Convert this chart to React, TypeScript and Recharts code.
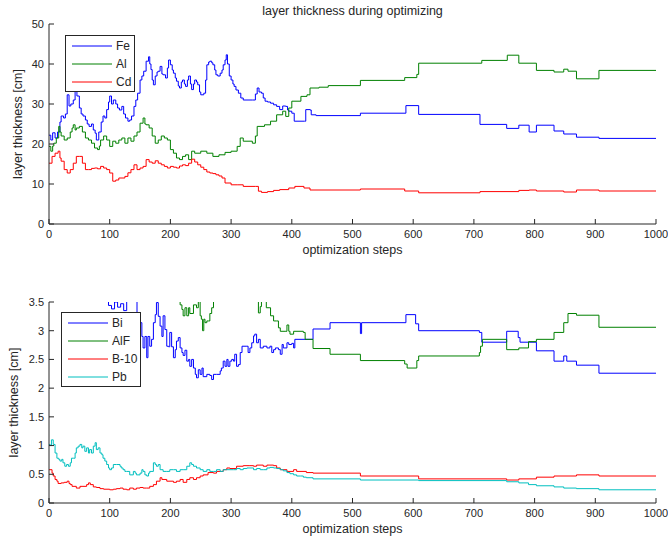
import React from "react";
import { LineChart, Line, XAxis, YAxis, Legend } from "recharts";

type Pt = [number, number];

const STEP_TICKS = [0, 100, 200, 300, 400, 500, 600, 700, 800, 900, 1000];
const UPPER_TICKS = [0, 10, 20, 30, 40, 50];
const LOWER_TICKS = [0, 0.5, 1, 1.5, 2, 2.5, 3, 3.5];

// [optimization step, layer thickness in cm]
const FE: Pt[] = [
  [0, 22.2], [3, 21], [6, 22.8], [10, 21.5], [14, 23], [18, 25.5], [20, 27], [24, 26.5], [27, 27.5],
  [30, 32.3], [33, 29.5], [36, 30], [40, 31], [43, 33.6], [46, 32], [50, 29], [53, 27.5], [56, 27],
  [60, 26], [63, 25], [66, 24.4], [70, 25], [73, 23.5], [76, 22.7], [78, 21], [82, 23], [86, 25.5],
  [89, 27], [92, 26.5], [95, 28.6], [98, 30.5], [100, 32], [103, 30], [106, 31], [110, 30], [113, 29],
  [116, 28.5], [120, 29.4], [123, 27.5], [126, 26.5], [130, 25.7], [133, 26], [136, 27], [140, 29.4],
  [143, 31], [146, 32.7], [150, 36], [153, 37], [156, 38.2], [160, 40.7], [164, 41.8], [166, 40],
  [168, 38.6], [170, 36], [172, 34.8], [175, 37], [178, 38], [180, 38.2], [183, 39.4], [186, 37.5],
  [188, 37.3], [192, 36.5], [195, 39], [197, 41], [200, 39.8], [203, 38.5], [205, 37.7], [208, 36.5],
  [210, 35.7], [213, 34.5], [215, 34], [218, 35.5], [220, 36], [223, 35], [225, 34.4], [228, 36],
  [230, 37], [233, 35], [235, 33.6], [238, 35], [240, 36], [243, 35.5], [245, 34.8], [248, 33],
  [250, 32.3], [255, 32.7], [258, 36], [260, 39.8], [263, 40.5], [265, 40.7], [268, 40.3], [270, 39.8],
  [273, 38.5], [275, 37.3], [278, 37], [282, 37.7], [285, 38.5], [287, 39.8], [290, 41], [292, 42.3],
  [294, 40], [297, 37], [300, 36], [303, 35], [305, 34.4], [308, 33.5], [312, 32.7], [316, 31.5],
  [320, 31], [335, 31], [340, 32.5], [343, 34], [346, 33], [350, 32.7], [353, 31.5], [356, 30.7],
  [360, 30.5], [365, 30.2], [370, 29.8], [375, 29.4], [380, 28.6], [385, 29.5], [390, 29.4], [393, 28.5],
  [395, 28.2], [400, 27.7], [404, 25.7], [421, 25.7], [423, 28.6], [430, 28.5], [432, 27.3], [440, 27.1],
  [513, 27.7], [588, 29.6], [609, 27.4], [710, 24.9], [754, 23.9], [774, 24.7], [791, 23], [803, 24.7],
  [832, 23.25], [848, 22.5], [869, 21.7], [906, 21.4], [1000, 21.4],
];

const AL: Pt[] = [
  [0, 19.4], [3, 18.2], [6, 19.5], [8, 20.2], [12, 21.5], [16, 24.4], [18, 23], [20, 22], [25, 21],
  [30, 21.5], [35, 23], [38, 24], [40, 24.8], [43, 23.5], [45, 24], [50, 24.4], [55, 23], [60, 21.5],
  [65, 21], [70, 20.2], [75, 19], [80, 18.6], [83, 19.5], [85, 21], [90, 22], [95, 21], [100, 19.4],
  [105, 20.7], [110, 20.2], [115, 21], [120, 21.5], [125, 20.2], [130, 21.5], [135, 20.7], [140, 22],
  [145, 23], [150, 25.2], [155, 26.5], [158, 25], [160, 24.8], [165, 24], [170, 22], [175, 20.2],
  [180, 21], [185, 22], [190, 21.5], [195, 21], [200, 18.6], [205, 17.7], [210, 16.5], [215, 16.1],
  [220, 16.9], [225, 17.3], [230, 16.1], [235, 18.2], [240, 17.7], [250, 18.2], [260, 17.7], [270, 16.9],
  [280, 17.3], [290, 17.9], [300, 18.2], [310, 19.4], [315, 21.5], [320, 20.7], [335, 20.2], [340, 22],
  [343, 24.4], [355, 24.8], [365, 25.7], [375, 27.3], [385, 28.2], [390, 26.9], [395, 29], [400, 30.7],
  [415, 31.9], [425, 32.3], [430, 34], [445, 34.2], [460, 34.6], [513, 35.9], [586, 36.6], [606, 37.4],
  [609, 40.2], [713, 40.9], [755, 42.2], [774, 40.2], [803, 38.4], [832, 38], [848, 38.7], [855, 38.2],
  [869, 36.3], [906, 38.4], [1000, 38.4],
];

const CD: Pt[] = [
  [0, 15.2], [5, 16.9], [10, 17.7], [15, 18.2], [18, 16.5], [20, 15.7], [25, 13.6], [30, 12.75],
  [35, 13.6], [40, 15.2], [45, 16.9], [50, 16.9], [55, 15.2], [60, 13.6], [65, 13.6], [70, 13.9],
  [75, 14], [80, 13.8], [85, 14.4], [90, 14], [95, 13.6], [100, 12.75], [105, 10.7], [110, 11],
  [115, 11.5], [125, 11.9], [130, 12.8], [135, 13.6], [140, 14.8], [145, 13.6], [150, 14], [155, 14.4],
  [160, 16.1], [165, 15.5], [170, 15.2], [175, 15.8], [180, 15.2], [185, 14.8], [190, 14.4], [195, 14],
  [200, 14.4], [205, 14.2], [210, 14], [215, 14.5], [220, 14.8], [225, 14.6], [230, 15.2], [235, 16.2],
  [240, 15.5], [245, 14.8], [250, 14.2], [255, 13.6], [260, 13], [265, 12.75], [270, 12.6], [275, 12.3],
  [280, 12], [285, 11.5], [290, 10.25], [300, 9.8], [310, 9.8], [320, 9.4], [340, 9.4], [345, 8.2],
  [350, 7.9], [360, 8.1], [370, 8.4], [380, 8.6], [395, 9], [405, 9.4], [420, 9], [430, 8.5],
  [513, 8.75], [586, 8.25], [609, 7.8], [710, 8.1], [774, 8.4], [791, 8.5], [803, 8.25], [848, 8],
  [869, 8.5], [906, 8.25], [1000, 8.25],
];

const BI: Pt[] = [
  [0, 4.2], [30, 4.6], [60, 4.4], [90, 3.9], [98, 3.44], [103, 3.38], [108, 3.5], [113, 3.41],
  [118, 3.47], [123, 3.35], [128, 3.55], [135, 3.8], [142, 3.7], [145, 3.28], [150, 3.14], [153, 2.9],
  [155, 2.7], [158, 2.9], [161, 2.53], [163, 2.9], [166, 2.73], [169, 2.85], [172, 3.14], [175, 3.28],
  [177, 3.49], [180, 3.25], [183, 3.08], [186, 2.9], [188, 3.26], [191, 3.02], [194, 2.73], [197, 2.72],
  [199, 2.97], [202, 2.72], [205, 2.53], [208, 2.67], [210, 2.82], [213, 2.88], [216, 2.7], [219, 2.62],
  [221, 2.57], [224, 2.66], [227, 2.47], [230, 2.5], [232, 2.38], [235, 2.5], [238, 2.35], [241, 2.24],
  [243, 2.18], [246, 2.32], [249, 2.24], [252, 2.35], [254, 2.2], [260, 2.24], [265, 2.22], [268, 2.15],
  [271, 2.24], [276, 2.24], [282, 2.3], [284, 2.35], [287, 2.47], [290, 2.38], [293, 2.5], [295, 2.38],
  [298, 2.47], [301, 2.5], [304, 2.47], [306, 2.59], [309, 2.38], [312, 2.41], [315, 2.62], [318, 2.73],
  [326, 2.73], [328, 2.62], [331, 2.7], [334, 2.79], [337, 2.91], [339, 2.94], [342, 2.79], [345, 2.85],
  [348, 2.7], [353, 2.73], [359, 2.7], [364, 2.73], [367, 2.62], [370, 2.67], [373, 2.7], [378, 2.67],
  [381, 2.59], [384, 2.76], [386, 2.7], [392, 2.79], [395, 2.76], [400, 2.78], [403, 2.7], [405, 2.85],
  [430, 2.85], [435, 3.03], [463, 3.14], [513, 2.95], [515, 3.14], [588, 3.28], [604, 3.12], [609, 3.0],
  [709, 2.97], [713, 2.8], [754, 2.99], [773, 2.88], [776, 2.8], [803, 2.65], [832, 2.47], [848, 2.56],
  [853, 2.47], [869, 2.4], [906, 2.26], [1000, 2.26],
];

const ALF: Pt[] = [
  [0, 4.3], [100, 4.0], [200, 3.8], [213, 3.6], [216, 3.45], [219, 3.37], [221, 3.26], [224, 3.4],
  [227, 3.26], [230, 3.4], [232, 3.3], [238, 3.45], [243, 3.4], [246, 3.55], [249, 3.26], [251, 3.2],
  [253, 3.0], [255, 3.2], [257, 3.14], [260, 3.17], [263, 3.17], [265, 3.3], [268, 3.4], [271, 3.55],
  [280, 3.9], [320, 4.0], [340, 3.7], [345, 3.31], [348, 3.42], [350, 3.55], [355, 3.6], [358, 3.4],
  [364, 3.4], [365, 3.26], [370, 3.17], [375, 3.17], [378, 3.05], [381, 2.99], [389, 2.99], [392, 3.1],
  [395, 2.99], [397, 2.94], [403, 2.99], [419, 2.97], [422, 2.85], [435, 2.69], [463, 2.59], [513, 2.48],
  [586, 2.42], [590, 2.35], [606, 2.48], [609, 2.56], [709, 2.62], [711, 2.73], [714, 2.85], [754, 2.67],
  [774, 2.7], [790, 2.81], [803, 2.85], [832, 2.97], [848, 3.14], [855, 3.3], [869, 3.27], [906, 3.06],
  [1000, 3.06],
];

const B10: Pt[] = [
  [0, 0.58], [5, 0.52], [7, 0.47], [10, 0.41], [13, 0.38], [15, 0.34], [20, 0.35], [25, 0.36], [30, 0.38],
  [33, 0.34], [35, 0.32], [38, 0.29], [45, 0.26], [51, 0.29], [56, 0.29], [62, 0.32], [65, 0.35],
  [68, 0.32], [73, 0.28], [78, 0.27], [84, 0.25], [90, 0.24], [100, 0.23], [106, 0.24], [111, 0.25],
  [117, 0.26], [122, 0.24], [128, 0.23], [133, 0.26], [139, 0.24], [144, 0.26], [150, 0.27], [155, 0.26],
  [161, 0.26], [166, 0.29], [172, 0.32], [177, 0.38], [183, 0.44], [186, 0.41], [194, 0.38], [205, 0.36],
  [210, 0.38], [216, 0.41], [221, 0.36], [227, 0.41], [232, 0.44], [238, 0.41], [243, 0.44], [249, 0.47],
  [254, 0.49], [262, 0.53], [271, 0.52], [276, 0.55], [287, 0.58], [293, 0.61], [298, 0.6], [309, 0.64],
  [320, 0.65], [331, 0.65], [337, 0.64], [342, 0.66], [353, 0.64], [359, 0.66], [364, 0.66], [370, 0.65],
  [375, 0.61], [381, 0.58], [392, 0.55], [403, 0.58], [408, 0.55], [424, 0.53], [435, 0.52], [513, 0.47],
  [609, 0.42], [754, 0.4], [774, 0.42], [803, 0.45], [832, 0.47], [869, 0.49], [906, 0.47], [1000, 0.47],
];

const PB: Pt[] = [
  [0, 1.02], [2, 1.0], [4, 1.1], [7, 1.02], [10, 0.87], [13, 0.78], [16, 0.76], [18, 0.73], [21, 0.76],
  [23, 0.7], [26, 0.64], [29, 0.67], [32, 0.64], [35, 0.7], [37, 0.78], [40, 0.78], [43, 0.87], [45, 0.96],
  [48, 0.99], [51, 1.02], [54, 0.96], [56, 0.99], [59, 0.9], [62, 0.96], [65, 0.87], [67, 0.93], [70, 0.87],
  [73, 0.99], [76, 1.05], [78, 0.93], [81, 0.96], [84, 0.87], [87, 0.84], [89, 0.78], [92, 0.73],
  [95, 0.67], [98, 0.61], [100, 0.58], [103, 0.61], [106, 0.67], [111, 0.67], [117, 0.64], [119, 0.61],
  [122, 0.58], [125, 0.55], [128, 0.55], [133, 0.49], [139, 0.55], [142, 0.52], [144, 0.49], [150, 0.52],
  [153, 0.58], [155, 0.55], [158, 0.49], [161, 0.47], [164, 0.52], [166, 0.55], [172, 0.7], [175, 0.67],
  [177, 0.64], [180, 0.67], [183, 0.58], [188, 0.55], [194, 0.55], [199, 0.58], [205, 0.58], [210, 0.55],
  [216, 0.58], [221, 0.58], [227, 0.64], [232, 0.7], [235, 0.67], [238, 0.64], [243, 0.61], [249, 0.58],
  [254, 0.55], [260, 0.58], [265, 0.55], [271, 0.55], [276, 0.58], [282, 0.55], [287, 0.58], [293, 0.58],
  [304, 0.58], [309, 0.6], [315, 0.58], [320, 0.6], [326, 0.61], [331, 0.61], [337, 0.58], [342, 0.6],
  [348, 0.58], [353, 0.58], [359, 0.61], [364, 0.62], [370, 0.61], [375, 0.6], [381, 0.58], [386, 0.56],
  [392, 0.53], [397, 0.51], [403, 0.49], [408, 0.47], [414, 0.47], [419, 0.45], [424, 0.44], [435, 0.42],
  [513, 0.4], [609, 0.39], [754, 0.37], [774, 0.35], [790, 0.32], [803, 0.3], [832, 0.28], [848, 0.26],
  [869, 0.25], [906, 0.23], [1000, 0.23],
];

const FONT = "'Liberation Sans', Arial, sans-serif";
const INK = "#262626";

type Series = { name: string; color: string; points: Pt[] };

const UPPER_SERIES: Series[] = [
  { name: "Fe", color: "#0000ff", points: FE },
  { name: "Al", color: "#008000", points: AL },
  { name: "Cd", color: "#ff0000", points: CD },
];

const LOWER_SERIES: Series[] = [
  { name: "Bi", color: "#0000ff", points: BI },
  { name: "AlF", color: "#008000", points: ALF },
  { name: "B-10", color: "#ff0000", points: B10 },
  { name: "Pb", color: "#00bfbf", points: PB },
];

const toRows = (pts: Pt[]) => pts.map(([step, value]) => ({ step, value }));

function LegendBox({ items, width, height }: { items: Series[]; width: number; height: number }) {
  return (
    <div
      style={{
        boxSizing: "border-box",
        width,
        height,
        border: `1px solid ${INK}`,
        background: "#fff",
        padding: "1px 0 0 6px",
        fontFamily: FONT,
        fontSize: 12,
        color: INK,
      }}
    >
      {items.map((s) => (
        <div key={s.name} style={{ display: "flex", alignItems: "center", height: 18 }}>
          <svg width={40} height={4} style={{ marginRight: 4 }}>
            <line x1={0} y1={2} x2={40} y2={2} stroke={s.color} strokeWidth={1} />
          </svg>
          <span>{s.name}</span>
        </div>
      ))}
    </div>
  );
}

type PanelProps = {
  top: number;
  height: number;
  marginTop: number;
  axisHeight: number;
  labelOffset: number;
  yLabelX: number;
  domain: [number, number];
  ticks: number[];
  series: Series[];
  legend: { left: number; top: number; width: number; height: number };
};

const tickStyle = { fontSize: 11, fontFamily: FONT, fill: INK };
const labelStyle = { fontSize: 12.5, fontFamily: FONT, fill: INK };

function Panel(p: PanelProps) {
  return (
    <div style={{ position: "absolute", left: 0, top: p.top }}>
      <LineChart width={668} height={p.height} margin={{ top: p.marginTop, right: 12, bottom: 0, left: 0 }}>
        <XAxis
          dataKey="step"
          type="number"
          domain={[0, 1000]}
          ticks={STEP_TICKS}
          height={p.axisHeight}
          tickSize={-5}
          tickMargin={11}
          tick={tickStyle}
          stroke={INK}
          allowDataOverflow
          label={{ value: "optimization steps", position: "insideBottom", offset: p.labelOffset, style: labelStyle }}
        />
        {/* top and right edges of the box, ticks pointing inward */}
        <XAxis
          xAxisId="frame"
          orientation="top"
          type="number"
          domain={[0, 1000]}
          ticks={STEP_TICKS}
          height={0}
          tickSize={-5}
          tickFormatter={() => ""}
          stroke={INK}
        />
        <YAxis
          type="number"
          domain={p.domain}
          ticks={p.ticks}
          width={49}
          tickSize={-5}
          tickMargin={10}
          tick={tickStyle}
          stroke={INK}
          allowDataOverflow
          label={{
            value: "layer thickness [cm]",
            angle: -90,
            position: "insideLeft",
            offset: p.yLabelX,
            style: { ...labelStyle, textAnchor: "middle" },
          }}
        />
        <YAxis
          yAxisId="frame"
          orientation="right"
          type="number"
          domain={p.domain}
          ticks={p.ticks}
          width={0}
          tickSize={-5}
          tickFormatter={() => ""}
          stroke={INK}
        />
        {p.series.map((s) => (
          <Line
            key={s.name}
            name={s.name}
            data={toRows(s.points)}
            dataKey="value"
            type="stepAfter"
            stroke={s.color}
            strokeWidth={1}
            dot={false}
            activeDot={false}
            isAnimationActive={false}
          />
        ))}
        <Legend
          layout="vertical"
          align="center"
          verticalAlign="middle"
          wrapperStyle={{ left: p.legend.left, top: p.legend.top, width: p.legend.width, height: p.legend.height }}
          content={() => <LegendBox items={p.series} width={p.legend.width} height={p.legend.height} />}
        />
      </LineChart>
    </div>
  );
}

export default function App() {
  return (
    <div style={{ position: "absolute", left: 0, top: 0, width: 668, height: 541, background: "#fff" }}>
      <div
        style={{
          position: "absolute",
          left: 49,
          top: 4,
          width: 607,
          textAlign: "center",
          fontFamily: FONT,
          fontSize: 12.5,
          lineHeight: "14px",
          color: INK,
        }}
      >
        layer thickness during optimizing
      </div>
      <Panel
        top={0}
        height={270}
        marginTop={24}
        axisHeight={46}
        labelOffset={16}
        yLabelX={18}
        domain={[0, 50]}
        ticks={UPPER_TICKS}
        series={UPPER_SERIES}
        legend={{ left: 65, top: 35, width: 70, height: 57 }}
      />
      <Panel
        top={270}
        height={271}
        marginTop={32}
        axisHeight={38}
        labelOffset={8}
        yLabelX={14}
        domain={[0, 3.5]}
        ticks={LOWER_TICKS}
        series={LOWER_SERIES}
        legend={{ left: 61, top: 42, width: 80, height: 75 }}
      />
    </div>
  );
}
